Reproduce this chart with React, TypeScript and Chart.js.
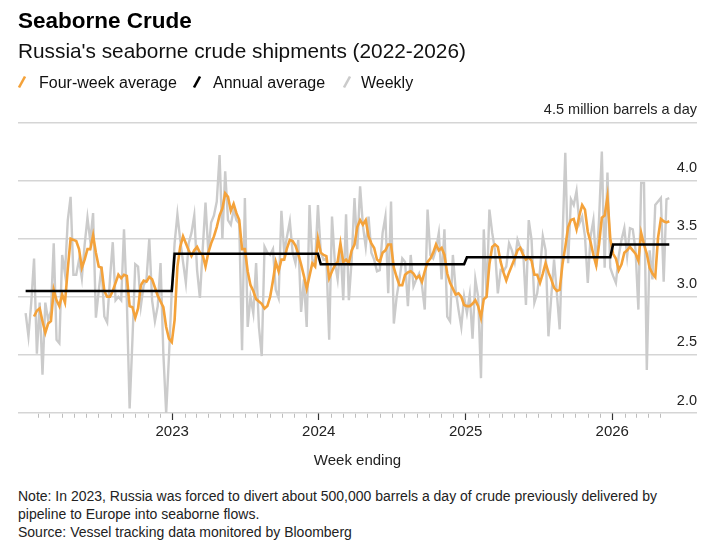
import React, { useEffect, useRef } from "react";
import { Chart, registerables } from "chart.js";

Chart.register(...registerables);

// ---------- DATA ----------
const FIRST_WEEK_UTC = Date.UTC(2022, 0, 1);
const WEEK_MS = 7 * 86400000;

// Weekly seaborne crude shipments, million barrels a day
const weekly: number[] = [
  2.86, 2.66, 2.95, 3.33, 2.51, 2.95, 2.33, 2.95, 2.8, 2.88,
  3.46, 2.63, 2.6, 3.36, 3.2, 3.66, 3.86, 3.19, 3.19, 3.32,
  3.16, 3.45, 3.68, 3.48, 3.72, 2.82, 3.05, 3.26, 2.83, 2.78,
  3.15, 3.47, 2.97, 3.0, 2.97, 3.58, 2.97, 2.04, 2.63, 3.28,
  3.26, 2.92, 3.1, 3.15, 3.5, 2.97, 2.79, 2.92, 3.29, 2.51,
  2.0, 2.49, 3.06, 3.46, 3.71, 3.49, 3.3, 3.12, 3.46, 3.55,
  3.7, 3.23, 2.99, 3.41, 3.81, 3.38, 3.64, 3.7, 3.82, 4.22,
  3.5, 4.08, 3.66, 3.62, 3.75, 3.66, 3.63, 2.54, 3.85, 2.74,
  3.0, 2.86, 3.29, 2.74, 2.49, 3.43, 3.38, 3.36, 3.41, 3.06,
  2.99, 3.74, 3.38, 3.52, 3.65, 3.38, 3.29, 3.49, 2.87, 3.15,
  2.74, 3.79, 3.32, 3.29, 3.79, 3.38, 3.32, 3.33, 2.63, 3.69,
  3.3, 3.15, 3.45, 2.97, 3.71, 2.97, 3.32, 3.85, 3.41, 3.95,
  3.61, 3.43, 3.69, 3.38, 3.32, 3.22, 3.23, 3.55, 3.69, 3.03,
  3.82, 2.77, 3.0, 3.15, 3.33, 3.3, 2.92, 3.36, 3.09, 3.15,
  3.2, 3.1, 2.89, 3.75, 3.36, 3.33, 3.41, 3.55, 3.15, 3.58,
  2.83, 2.79, 3.36, 3.06, 2.89, 2.74, 3.0, 2.86, 3.02, 2.64,
  3.15, 3.0, 2.3, 3.58, 3.0, 3.75, 3.55, 3.4, 3.03, 3.23,
  3.22, 3.26, 3.46, 3.4, 3.3, 3.49, 3.42, 3.4, 2.93, 3.66,
  3.49, 2.95, 3.03, 3.23, 3.52, 3.4, 2.66, 3.0, 3.32, 3.03,
  2.72, 3.49, 4.24, 3.29, 3.84, 3.79, 3.91, 3.63, 3.69, 3.52,
  3.12, 3.52, 3.66, 3.26, 3.66, 4.25, 3.25, 4.07, 3.25, 3.18,
  3.12, 3.35, 3.49, 3.59, 3.35, 3.59, 3.58, 3.4, 2.89, 3.98,
  3.98, 2.37, 3.4, 3.15, 3.79, 3.82, 3.85, 3.13, 3.84, 3.85,
];

// Four-week average, million barrels a day
const fourWeekAvg: (number | null)[] = [
  null, null, null, 2.83, 2.88, 2.9, 2.79, 2.69, 2.77, 2.79,
  3.06, 2.97, 2.92, 3.02, 2.95, 3.24, 3.5, 3.49, 3.48, 3.41,
  3.25, 3.32, 3.41, 3.41, 3.53, 3.38, 3.26, 3.25, 3.05, 3.0,
  3.0, 3.05, 3.12, 3.19, 3.16, 3.19, 3.18, 2.92, 2.91, 2.82,
  2.9, 3.1, 3.14, 3.13, 3.17, 3.15, 3.08, 3.01, 2.96, 2.91,
  2.74, 2.64, 2.61, 2.8, 3.26, 3.43, 3.52, 3.46, 3.4, 3.35,
  3.4, 3.43, 3.38, 3.36, 3.26, 3.38, 3.46, 3.52, 3.6, 3.7,
  3.76, 3.89, 3.86, 3.74, 3.8, 3.72, 3.66, 3.41, 3.41, 3.22,
  3.1, 3.05, 2.98, 2.96, 2.94, 2.9, 2.92, 3.0, 3.14, 3.3,
  3.22, 3.32, 3.32, 3.42, 3.49, 3.48, 3.44, 3.37, 3.28, 3.18,
  3.07, 3.18, 3.29, 3.26, 3.5, 3.38, 3.36, 3.35, 3.16, 3.22,
  3.27, 3.3, 3.46, 3.3, 3.32, 3.29, 3.4, 3.45, 3.6, 3.66,
  3.62, 3.66, 3.52, 3.46, 3.42, 3.32, 3.3, 3.38, 3.4, 3.45,
  3.45, 3.25, 3.17, 3.1, 3.1, 3.19, 3.21, 3.22, 3.2, 3.16,
  3.18, 3.13, 3.22, 3.3, 3.33, 3.38, 3.45, 3.4, 3.42, 3.36,
  3.2, 3.12, 3.07, 3.02, 3.03, 3.0, 2.93, 2.92, 2.92, 2.94,
  2.97, 2.92, 2.82, 2.98, 3.0, 3.28, 3.43, 3.45, 3.43, 3.3,
  3.21, 3.14, 3.21, 3.27, 3.33, 3.4, 3.42, 3.36, 3.32, 3.34,
  3.31, 3.19, 3.19, 3.12, 3.2, 3.29, 3.21, 3.15, 3.08, 3.05,
  3.06, 3.28, 3.43, 3.6, 3.66, 3.67, 3.58, 3.7, 3.79, 3.75,
  3.56, 3.47, 3.36, 3.27, 3.45, 3.68, 3.7, 3.86, 3.5, 3.37,
  3.33, 3.23, 3.28, 3.38, 3.4, 3.43, 3.4, 3.37, 3.31, 3.55,
  3.45, 3.37, 3.25, 3.2, 3.17, 3.51, 3.67, 3.65, 3.64, 3.65,
];

// Annual averages
const annualYears: number[] = [2022, 2023, 2024, 2025, 2026];
const annualAvg: number[] = [3.05, 3.37, 3.28, 3.34, 3.45];

// Axis ticks
const yearTicks: number[] = [2023, 2024, 2025, 2026];
const yTicks: number[] = [2.0, 2.5, 3.0, 3.5, 4.0, 4.5];
const yUnit = "million barrels a day";

const seriesNames = ["Four-week average", "Annual average", "Weekly"];
const seriesColors = ["#F4A23A", "#000000", "#CBCBCB"];

const FONT = "'Liberation Sans', Arial, Helvetica, sans-serif";

const minorTicksPlugin = {
  id: "minorTicks",
  afterDraw(chart: any) {
    const s = chart.scales.x;
    const ctx = chart.ctx;
    const y0 = chart.chartArea.bottom + 0.75;
    const last = Date.UTC(2026, 4, 1);
    ctx.save();
    ctx.strokeStyle = "#bdbdbd";
    ctx.lineWidth = 1;
    for (let yr = 2022; yr <= 2026; yr++) {
      for (let m = 1; m < 12; m++) {
        const t = Date.UTC(yr, m, 1);
        if (t > last) break;
        const px = Math.round(s.getPixelForValue(t)) + 0.5;
        ctx.beginPath();
        ctx.moveTo(px, y0);
        ctx.lineTo(px, y0 + 4);
        ctx.stroke();
      }
    }
    ctx.restore();
  },
};

function Slash({ color, left }: { color: string; left: number }) {
  return (
    <svg
      width="10"
      height="14"
      style={{ position: "absolute", left, top: 75 }}
    >
      <line x1="2" y1="12.5" x2="8" y2="1.5" stroke={color} strokeWidth="2.6" />
    </svg>
  );
}

export default function App() {
  const ref = useRef<HTMLCanvasElement | null>(null);

  useEffect(() => {
    if (!ref.current) return;
    Chart.defaults.font.family = FONT;
    const weekX = weekly.map((_, i) => FIRST_WEEK_UTC + i * WEEK_MS);
    const annualSeries = weekX.map(
      (x) => annualAvg[annualYears.indexOf(new Date(x).getUTCFullYear())]
    );

    const chart = new Chart(ref.current, {
      type: "line",
      data: {
        datasets: [
          {
            label: seriesNames[1],
            data: weekX.map((x, i) => ({ x, y: annualSeries[i] })),
            borderColor: seriesColors[1],
            borderWidth: 2.6,
            pointRadius: 0,
            order: 0,
          },
          {
            label: seriesNames[0],
            data: weekX.map((x, i) => ({ x, y: fourWeekAvg[i] })),
            borderColor: seriesColors[0],
            borderWidth: 2.6,
            pointRadius: 0,
            order: 1,
          },
          {
            label: seriesNames[2],
            data: weekX.map((x, i) => ({ x, y: weekly[i] })),
            borderColor: seriesColors[2],
            borderWidth: 2.4,
            pointRadius: 0,
            order: 2,
          },
        ],
      } as any,
      options: {
        responsive: false,
        animation: false,
        layout: { padding: { top: 122.5, left: 18, right: 22, bottom: 0 } },
        plugins: {
          legend: { display: false },
          tooltip: { enabled: false },
          title: { display: false },
        },
        scales: {
          x: {
            type: "linear",
            min: Date.UTC(2021, 11, 13),
            max: Date.UTC(2026, 6, 31),
            afterBuildTicks: (s: any) => {
              s.ticks = yearTicks.map((y) => ({ value: Date.UTC(y, 0, 1) }));
            },
            afterFit: (s: any) => {
              s.height = 67;
            },
            ticks: {
              callback: (v: any) => String(new Date(Number(v)).getUTCFullYear()),
              color: "#222",
              font: { size: 15 },
              padding: 3,
              autoSkip: false,
              maxRotation: 0,
            },
            grid: {
              drawOnChartArea: false,
              drawTicks: true,
              tickLength: 7,
              tickColor: "#333",
              tickWidth: 1.2,
            },
            border: { display: false },
            title: {
              display: true,
              text: "Week ending",
              color: "#222",
              font: { size: 15 },
              padding: { top: 0, bottom: 10 },
            },
          },
          y: {
            type: "linear",
            position: "right",
            min: 2,
            max: 4.5,
            afterBuildTicks: (s: any) => {
              s.ticks = yTicks.map((v) => ({ value: v }));
            },
            afterFit: (s: any) => {
              s.width = 0;
            },
            ticks: {
              mirror: true,
              padding: 0,
              labelOffset: -12.5,
              color: "#222",
              font: { size: 14.5 },
              callback: (v: any) =>
                Math.abs(Number(v) - 4.5) < 1e-9
                  ? `4.5 ${yUnit}`
                  : Number(v).toFixed(1),
            },
            grid: { color: "#d5d5d5", lineWidth: 1.5, drawTicks: false },
            border: { display: false },
          },
        },
      } as any,
      plugins: [minorTicksPlugin],
    });
    return () => chart.destroy();
  }, []);

  return (
    <div
      style={{
        position: "absolute",
        left: 0,
        top: 0,
        width: 719,
        height: 550,
        background: "#fff",
        fontFamily: FONT,
        color: "#111",
        overflow: "hidden",
      }}
    >
      <canvas
        ref={ref}
        width={719}
        height={480}
        style={{ position: "absolute", left: 0, top: 0, width: 719, height: 480 }}
      />
      <div
        style={{
          position: "absolute",
          left: 18,
          top: 8,
          fontSize: 22.5,
          lineHeight: "26px",
          fontWeight: 700,
          color: "#000",
          whiteSpace: "nowrap",
        }}
      >
        Seaborne Crude
      </div>
      <div
        style={{
          position: "absolute",
          left: 18,
          top: 39,
          fontSize: 20.8,
          lineHeight: "24px",
          color: "#111",
          whiteSpace: "nowrap",
        }}
      >
        Russia's seaborne crude shipments (2022-2026)
      </div>
      <Slash color={seriesColors[0]} left={17} />
      <Slash color={seriesColors[1]} left={192} />
      <Slash color={seriesColors[2]} left={342} />
      {[
        { name: seriesNames[0], left: 39 },
        { name: seriesNames[1], left: 213 },
        { name: seriesNames[2], left: 361 },
      ].map((e) => (
        <div
          key={e.name}
          style={{
            position: "absolute",
            left: e.left,
            top: 72.5,
            fontSize: 16,
            lineHeight: "20px",
            color: "#111",
            whiteSpace: "nowrap",
          }}
        >
          {e.name}
        </div>
      ))}
      <div
        style={{
          position: "absolute",
          left: 18,
          top: 487,
          fontSize: 14,
          lineHeight: "18px",
          color: "#222",
          width: 690,
        }}
      >
        <div>
          Note: In 2023, Russia was forced to divert about 500,000 barrels a day of crude previously delivered by
        </div>
        <div>pipeline to Europe into seaborne flows.</div>
        <div>Source: Vessel tracking data monitored by Bloomberg</div>
      </div>
    </div>
  );
}
